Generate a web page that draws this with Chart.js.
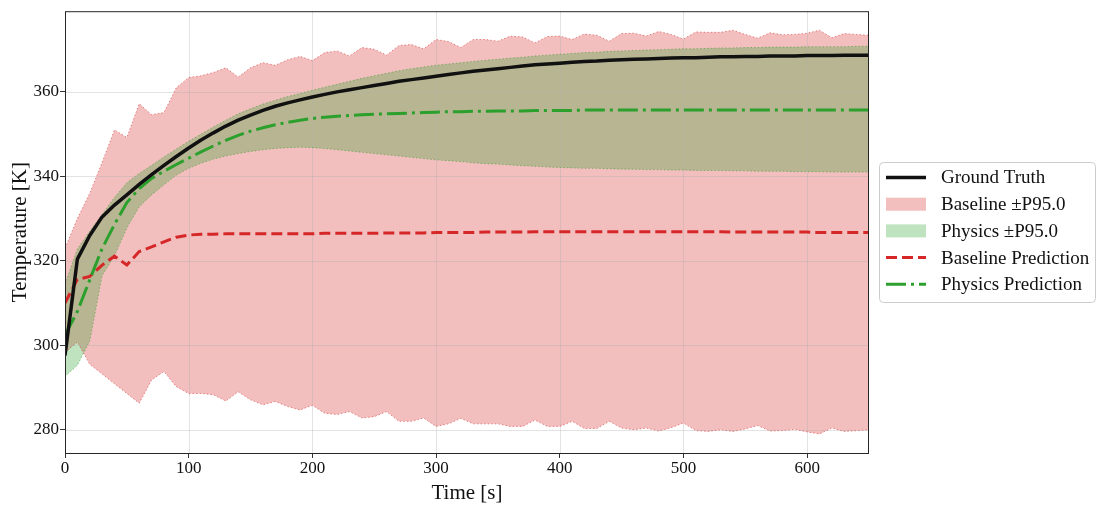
<!DOCTYPE html>
<html>
<head>
<meta charset="utf-8">
<title>Temperature prediction</title>
<script src="https://cdn.jsdelivr.net/npm/chart.js@4.4.1/dist/chart.umd.min.js"></script>
<style>
  html, body { margin: 0; padding: 0; background: #fff; }
  canvas { display: block; }
</style>
</head>
<body>
<canvas id="tempChart" width="1096" height="506"></canvas>
<script>
// time axis [s]
const times = [
    0, 10, 20, 30, 40, 50, 60, 70, 80, 90,
    100, 110, 120, 130, 140, 150, 160, 170, 180, 190,
    200, 210, 220, 230, 240, 250, 260, 270, 280, 290,
    300, 310, 320, 330, 340, 350, 360, 370, 380, 390,
    400, 410, 420, 430, 440, 450, 460, 470, 480, 490,
    500, 510, 520, 530, 540, 550, 560, 570, 580, 590,
    600, 610, 620, 630, 640, 650
];

// temperatures [K]
const groundTruth = [
    297.6, 320.4, 326.0, 330.4, 333.2, 335.6, 338.1, 340.4, 342.6, 344.7,
    346.7, 348.6, 350.3, 351.9, 353.3, 354.5, 355.6, 356.6, 357.4, 358.1,
    358.8, 359.4, 360.0, 360.5, 361.0, 361.5, 362.0, 362.5, 362.9, 363.3,
    363.7, 364.1, 364.5, 364.9, 365.2, 365.5, 365.8, 366.1, 366.4, 366.6,
    366.8, 367.0, 367.2, 367.3, 367.5, 367.6, 367.7, 367.8, 367.9, 368.0,
    368.1, 368.1, 368.2, 368.3, 368.3, 368.4, 368.4, 368.5, 368.5, 368.5,
    368.6, 368.6, 368.6, 368.7, 368.7, 368.7
];
const baselineUpper = [
    323.0, 330.0, 336.0, 343.3, 351.0, 349.2, 357.2, 354.6, 355.1, 361.0,
    363.4, 363.8, 364.6, 365.7, 363.5, 365.7, 366.9, 366.3, 367.6, 368.4,
    367.4, 369.3, 369.7, 368.5, 370.5, 370.1, 368.7, 371.0, 371.2, 370.2,
    372.4, 371.9, 370.5, 372.4, 372.4, 372.0, 373.2, 373.0, 371.6, 373.1,
    373.2, 372.4, 373.7, 373.4, 372.0, 373.8, 373.9, 373.2, 374.3, 373.6,
    372.5, 374.2, 374.1, 374.1, 374.6, 373.6, 372.7, 374.0, 373.5, 373.6,
    373.9, 374.6, 372.8, 373.8, 373.6, 373.4
];
const baselineLower = [
    298.3, 300.8, 295.5, 293.2, 290.9, 288.6, 286.3, 291.8, 293.8, 290.2,
    288.6, 288.6, 288.3, 286.8, 289.0, 287.1, 285.9, 286.7, 285.5, 284.7,
    285.8, 283.9, 283.6, 284.3, 282.8, 283.1, 284.3, 282.0, 282.0, 282.8,
    280.8, 281.4, 282.7, 281.4, 281.4, 281.4, 280.8, 280.8, 282.3, 280.8,
    280.8, 282.0, 280.3, 280.3, 282.0, 280.4, 280.0, 280.4, 279.7, 280.5,
    281.6, 279.8, 279.6, 280.0, 279.6, 280.2, 281.0, 279.7, 279.8, 280.1,
    279.5, 279.0, 280.4, 279.6, 279.8, 280.0
];
const physicsUpper = [
    314.5, 322.8, 327.0, 331.0, 335.0, 338.5, 340.7, 342.6, 344.6, 346.5,
    348.3, 350.0, 351.7, 353.3, 354.8, 356.0, 357.1, 358.0, 358.9, 359.6,
    360.4, 361.1, 361.8, 362.5, 363.2, 363.8, 364.4, 365.0, 365.5, 365.9,
    366.3, 366.6, 366.9, 367.2, 367.5, 367.7, 368.0, 368.2, 368.5, 368.7,
    368.9, 369.1, 369.3, 369.4, 369.6, 369.7, 369.8, 369.9, 370.0, 370.1,
    370.2, 370.2, 370.3, 370.4, 370.4, 370.5, 370.5, 370.6, 370.6, 370.6,
    370.7, 370.7, 370.7, 370.7, 370.8, 370.8
];
const physicsLower = [
    292.6, 295.3, 301.0, 316.5, 321.2, 327.8, 332.8, 335.6, 338.0, 340.3,
    341.9, 343.1, 344.1, 344.8, 345.4, 345.9, 346.3, 346.6, 346.8, 346.9,
    346.8, 346.6, 346.3, 346.0, 345.7, 345.4, 345.1, 344.8, 344.5, 344.2,
    343.9, 343.7, 343.5, 343.2, 343.0, 342.9, 342.7, 342.5, 342.4, 342.2,
    342.1, 342.0, 341.9, 341.9, 341.8, 341.7, 341.7, 341.6, 341.6, 341.5,
    341.5, 341.4, 341.4, 341.4, 341.3, 341.3, 341.2, 341.2, 341.2, 341.1,
    341.1, 341.1, 341.0, 341.0, 341.0, 341.0
];
const baselinePred = [
    310.0, 315.6, 316.3, 319.0, 321.1, 319.0, 322.2, 323.3, 324.5, 325.6,
    326.1, 326.3, 326.3, 326.4, 326.4, 326.4, 326.4, 326.4, 326.4, 326.4,
    326.4, 326.5, 326.5, 326.5, 326.5, 326.5, 326.6, 326.6, 326.6, 326.6,
    326.7, 326.7, 326.7, 326.7, 326.8, 326.8, 326.8, 326.8, 326.9, 326.9,
    326.9, 326.9, 326.9, 326.9, 326.9, 326.9, 326.9, 326.9, 326.9, 326.9,
    326.9, 326.9, 326.9, 326.9, 326.8, 326.8, 326.8, 326.8, 326.8, 326.8,
    326.8, 326.7, 326.7, 326.7, 326.7, 326.7
];
const physicsPred = [
    302.4, 308.0, 315.5, 322.9, 328.6, 333.8, 337.1, 339.5, 341.2, 342.8,
    344.3, 345.8, 347.2, 348.5, 349.7, 350.7, 351.5, 352.2, 352.8, 353.3,
    353.7, 354.0, 354.2, 354.4, 354.6, 354.7, 354.8, 354.9, 355.0, 355.1,
    355.2, 355.3, 355.3, 355.4, 355.4, 355.5, 355.5, 355.5, 355.6, 355.6,
    355.6, 355.6, 355.7, 355.7, 355.7, 355.7, 355.7, 355.7, 355.7, 355.7,
    355.7, 355.7, 355.7, 355.7, 355.7, 355.7, 355.7, 355.7, 355.7, 355.7,
    355.7, 355.7, 355.7, 355.7, 355.7, 355.7
];

const RED = '#d62728';
const GREEN = '#2ca02c';
const SERIF = '"Liberation Serif", "DejaVu Serif", serif';

function toPoints(values) {
    return times.map((t, i) => ({ x: t, y: values[i] }));
}

// light grid drawn over the bands but under the lines (like matplotlib)
const gridBehindLines = {
    id: 'gridBehindLines',
    beforeDatasetsDraw(chart) {
        const { ctx, chartArea: area, scales } = chart;
        ctx.save();
        ctx.strokeStyle = 'rgba(176,176,176,0.35)';
        ctx.lineWidth = 1;
        ctx.beginPath();
        scales.x.ticks.forEach(tick => {
            const px = Math.round(scales.x.getPixelForValue(tick.value)) + 0.5;
            ctx.moveTo(px, area.top);
            ctx.lineTo(px, area.bottom);
        });
        scales.y.ticks.forEach(tick => {
            const py = Math.round(scales.y.getPixelForValue(tick.value)) + 0.5;
            ctx.moveTo(area.left, py);
            ctx.lineTo(area.right, py);
        });
        ctx.stroke();
        ctx.restore();
    }
};

// box around the plot area
const plotFrame = {
    id: 'plotFrame',
    afterDatasetsDraw(chart) {
        const { ctx, chartArea: area } = chart;
        ctx.save();
        ctx.strokeStyle = '#262626';
        ctx.lineWidth = 1;
        ctx.strokeRect(area.left + 0.5, area.top + 0.5, area.width - 1, area.height);
        ctx.restore();
    }
};

// framed legend to the right of the plot
const boxedLegend = {
    id: 'boxedLegend',
    afterDraw(chart) {
        const { ctx, chartArea: area } = chart;
        const items = chart.data.datasets.filter(d => d.label);
        const boxW = 216, boxH = 140, rowH = 26.7;
        const left = area.right + 10.5;
        const top = Math.round((area.top + area.bottom) / 2 - boxH / 2) + 0.5;

        ctx.save();
        ctx.beginPath();
        ctx.roundRect(left, top, boxW, boxH, 4);
        ctx.fillStyle = 'rgba(255,255,255,0.8)';
        ctx.fill();
        ctx.strokeStyle = '#cccccc';
        ctx.lineWidth = 1;
        ctx.stroke();

        ctx.font = '19px ' + SERIF;
        ctx.textBaseline = 'middle';
        items.forEach((d, i) => {
            const cy = top + 15 + i * rowH;
            const x0 = left + 6.5;
            if (d.fill) {
                ctx.fillStyle = d.backgroundColor;
                ctx.fillRect(x0, cy - 6.5, 40, 13);
            } else {
                ctx.strokeStyle = d.borderColor;
                ctx.lineWidth = d.borderWidth;
                ctx.setLineDash(d.borderDash || []);
                ctx.beginPath();
                ctx.moveTo(x0, cy);
                ctx.lineTo(x0 + 40, cy);
                ctx.stroke();
                ctx.setLineDash([]);
            }
            ctx.fillStyle = '#111';
            ctx.fillText(d.label, left + 61.5, cy + 1);
        });
        ctx.restore();
    }
};

const bandEdge = (color) => ({
    borderColor: color,
    borderWidth: 1,
    borderDash: [1.4, 2.2],
    pointRadius: 0,
    tension: 0
});

const ctx = document.getElementById('tempChart').getContext('2d');
const tempChart = new Chart(ctx, {
    type: 'line',
    data: {
        datasets: [
            {
                label: 'Ground Truth',
                data: toPoints(groundTruth),
                borderColor: '#111111',
                borderWidth: 3.5,
                borderJoinStyle: 'round',
                pointRadius: 0,
                fill: false,
                order: 0
            },
            {
                label: 'Baseline \u00b1P95.0',
                data: toPoints(baselineUpper),
                ...bandEdge('rgba(214,39,40,0.55)'),
                backgroundColor: 'rgba(214,39,40,0.3)',
                fill: '+1',
                order: 4
            },
            {
                label: '',
                data: toPoints(baselineLower),
                ...bandEdge('rgba(214,39,40,0.55)'),
                fill: false,
                order: 4
            },
            {
                label: 'Physics \u00b1P95.0',
                data: toPoints(physicsUpper),
                ...bandEdge('rgba(44,160,44,0.55)'),
                backgroundColor: 'rgba(44,160,44,0.3)',
                fill: '+1',
                order: 3
            },
            {
                label: '',
                data: toPoints(physicsLower),
                ...bandEdge('rgba(44,160,44,0.55)'),
                fill: false,
                order: 3
            },
            {
                label: 'Baseline Prediction',
                data: toPoints(baselinePred),
                borderColor: RED,
                borderWidth: 3,
                borderDash: [11, 5],
                pointRadius: 0,
                fill: false,
                order: 2
            },
            {
                label: 'Physics Prediction',
                data: toPoints(physicsPred),
                borderColor: GREEN,
                borderWidth: 3,
                borderDash: [20, 5, 3, 5],
                pointRadius: 0,
                fill: false,
                order: 1
            }
        ]
    },
    options: {
        responsive: false,
        animation: false,
        events: [],
        devicePixelRatio: 1,
        layout: { padding: { top: 10, right: 227, bottom: 0, left: 0 } },
        plugins: {
            legend: { display: false },
            tooltip: { enabled: false },
            filler: { drawTime: 'beforeDatasetsDraw' }
        },
        scales: {
            x: {
                type: 'linear',
                min: 0,
                max: 650,
                afterFit: scale => { scale.height = 53; },
                ticks: {
                    stepSize: 100,
                    includeBounds: false,
                    padding: 0,
                    color: '#111',
                    maxRotation: 0,
                    font: { family: SERIF, size: 17 }
                },
                grid: {
                    drawOnChartArea: false,
                    tickLength: 5,
                    tickColor: '#333',
                    tickWidth: 1
                },
                border: { display: false },
                title: {
                    display: true,
                    text: 'Time [s]',
                    color: '#111',
                    padding: { top: 0, bottom: 0 },
                    font: { family: SERIF, size: 21 }
                }
            },
            y: {
                type: 'linear',
                min: 274.5,
                max: 379.1,
                afterFit: scale => { scale.width = 65; },
                ticks: {
                    stepSize: 20,
                    includeBounds: false,
                    padding: 1,
                    color: '#111',
                    font: { family: SERIF, size: 17 }
                },
                grid: {
                    drawOnChartArea: false,
                    tickLength: 5,
                    tickColor: '#333',
                    tickWidth: 1
                },
                border: { display: false },
                title: {
                    display: true,
                    text: 'Temperature [K]',
                    color: '#111',
                    padding: { top: 8, bottom: 0 },
                    font: { family: SERIF, size: 21 }
                }
            }
        }
    },
    plugins: [gridBehindLines, plotFrame, boxedLegend]
});
</script>
</body>
</html>
